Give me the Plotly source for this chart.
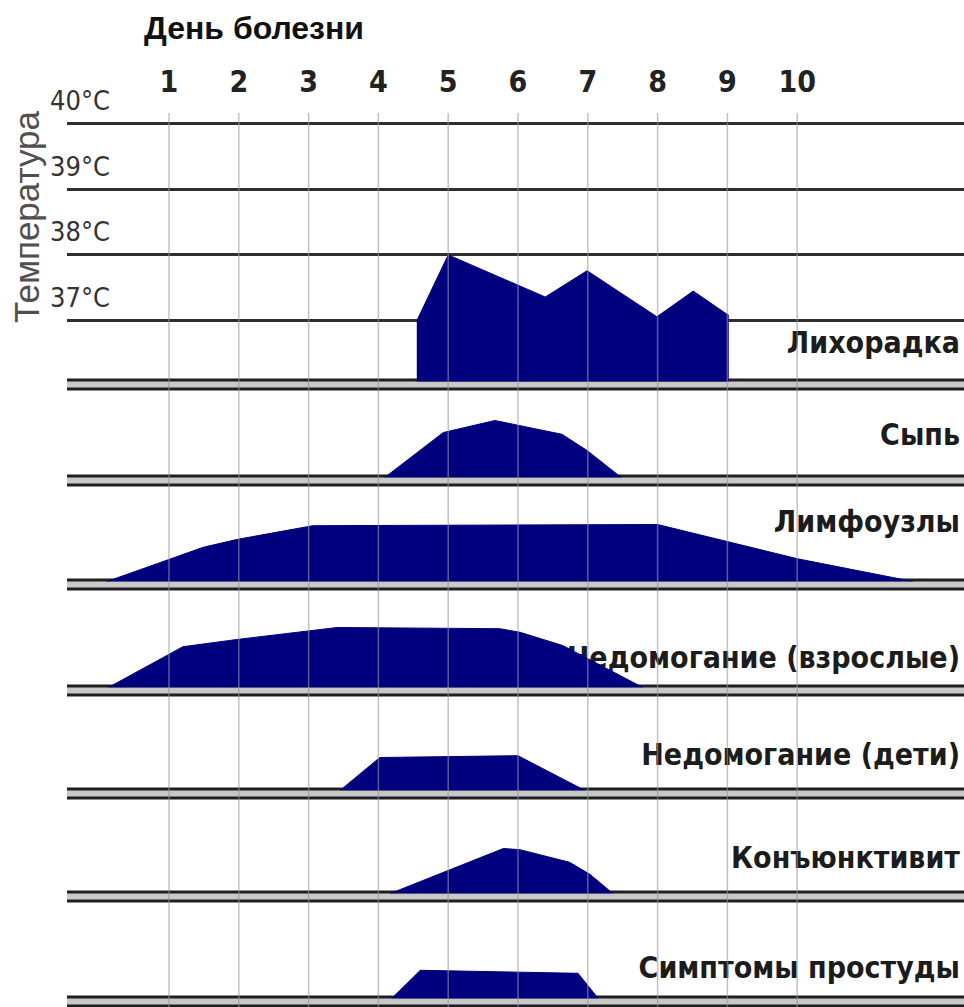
import plotly.graph_objects as go

# ---------------- data ----------------
days = [1, 2, 3, 4, 5, 6, 7, 8, 9, 10]
day_labels = ["1", "2", "3", "4", "5", "6", "7", "8", "9", "10"]
temps = [37, 38, 39, 40]
temp_labels = ["37°C", "38°C", "39°C", "40°C"]

fever_label = "Лихорадка"
fever_day = [4.55, 5.0, 6.39, 6.99, 7.99, 8.51, 9.02]
fever_temp = [37.0, 38.0, 37.36, 37.76, 37.06, 37.45, 37.08]

symptom_labels = ["Сыпь", "Лимфоузлы", "Недомогание (взрослые)",
                  "Недомогание (дети)", "Конъюнктивит", "Симптомы простуды"]
rash_day = [4.09, 4.93, 5.67, 6.63, 6.99, 7.48]
rash_val = [0, 0.75, 0.95, 0.72, 0.45, 0]
lymph_day = [0.11, 1.49, 1.97, 3.06, 8.0, 10.0, 11.66]
lymph_val = [0, 0.57, 0.70, 0.93, 0.95, 0.38, 0]
malaise_adult_day = [0.13, 1.2, 1.97, 3.41, 5.74, 6.03, 6.64, 7.79]
malaise_adult_val = [0, 0.68, 0.80, 1.0, 0.98, 0.92, 0.70, 0]
malaise_child_day = [3.45, 4.02, 6.0, 6.96]
malaise_child_val = [0, 0.55, 0.58, 0]
conj_day = [4.17, 4.98, 5.79, 6.03, 6.74, 7.03, 7.36]
conj_val = [0, 0.37, 0.75, 0.73, 0.52, 0.32, 0]
cold_day = [4.19, 4.6, 6.86, 7.15]
cold_val = [0, 0.47, 0.42, 0]

x_title = "День болезни"
y_title = "Температура"

# ---------------- layout constants (pixels) ----------------
W, H = 964, 1007
X_LEFT_PX = 67
DAY1_PX, DAY_PX = 169, 69.8
TOP_PX = 113
BASE_PX = [380, 476, 580, 686, 789, 892, 997]
GAP = 9
T40_PX, DEG_PX = 123.3, 65.8
UNIT_PX = 60
LABEL_RIGHT_PX = 960
LABEL_CY_PX = [345, 437, 524, 660, 757, 860, 970]

NAVY = "#00007f"
NARROW = "DejaVu Sans Condensed, Liberation Sans Narrow, Arial Narrow, sans-serif"
SANS = "Liberation Sans, Arial, sans-serif"


def py(p):
    return 1 - p / H


def px_to_day(p):
    return 1 + (p - DAY1_PX) / DAY_PX


x_range = [px_to_day(X_LEFT_PX), px_to_day(W)]
label_x = px_to_day(LABEL_RIGHT_PX)

fig = go.Figure()

panels = [(fever_day, fever_temp, fever_label)] + list(zip(
    [rash_day, lymph_day, malaise_adult_day, malaise_child_day, conj_day, cold_day],
    [rash_val, lymph_val, malaise_adult_val, malaise_child_val, conj_val, cold_val],
    symptom_labels))

layout_axes = {}
for i, (xd, yd, lab) in enumerate(panels):
    yname = "y" if i == 0 else f"y{i+1}"
    ykey = "yaxis" if i == 0 else f"yaxis{i+1}"
    b = BASE_PX[i]
    top = TOP_PX if i == 0 else BASE_PX[i - 1] + GAP + 3
    dom = [py(b + 1.5), py(top)]
    if i == 0:
        rng = [40 - (b + 1.5 - T40_PX) / DEG_PX, 40 + (T40_PX - top) / DEG_PX]
        label_y = 40 - (LABEL_CY_PX[i] - T40_PX) / DEG_PX
        layout_axes[ykey] = dict(domain=dom, range=rng, anchor="x",
                                 tickvals=temps, showticklabels=False,
                                 showgrid=True, gridcolor="#2e2e2e", gridwidth=2.5,
                                 zeroline=False, showline=False, ticks="",
                                 fixedrange=True)
    else:
        rng = [0, (b + 1.5 - top) / UNIT_PX]
        label_y = (b + 1.5 - LABEL_CY_PX[i]) / UNIT_PX
        layout_axes[ykey] = dict(domain=dom, range=rng, anchor="x", visible=False,
                                 fixedrange=True)
    # label (drawn below the fill, as in the original)
    fig.add_trace(go.Scatter(x=[label_x], y=[label_y], mode="text", text=[lab],
                             textposition="middle left",
                             textfont=dict(family=NARROW, size=30, color="#1c1c1c",
                                           weight="bold"),
                             xaxis="x", yaxis=yname, showlegend=False,
                             hoverinfo="skip"))
    fig.add_trace(go.Scatter(x=xd, y=yd, mode="lines", fill="tozeroy",
                             fillcolor=NAVY, line=dict(color=NAVY, width=1),
                             xaxis="x", yaxis=yname, showlegend=False,
                             name=lab))

shapes = []
# double base lines under each panel
for b in BASE_PX:
    shapes.append(dict(type="rect", xref="paper", yref="paper",
                       x0=X_LEFT_PX / W, x1=1, y0=py(b + GAP), y1=py(b),
                       fillcolor="#c8c8c8", line=dict(width=0), layer="below"))
    for yy in (b, b + GAP):
        shapes.append(dict(type="line", xref="paper", yref="paper",
                           x0=X_LEFT_PX / W, x1=1, y0=py(yy), y1=py(yy),
                           line=dict(color="#1e1e1e", width=3), layer="below"))
# vertical day grid lines (over the fills)
for d in days:
    shapes.append(dict(type="line", xref="x", yref="paper", x0=d, x1=d,
                       y0=0, y1=py(TOP_PX),
                       line=dict(color="rgba(150,150,165,0.6)", width=1.5),
                       layer="above"))

annotations = [
    dict(text=x_title, xref="paper", yref="paper", x=254 / W, y=py(28),
         xanchor="center", yanchor="middle", showarrow=False,
         font=dict(family=SANS, size=32, color="#111111", weight="bold")),
    dict(text=y_title, xref="paper", yref="paper", x=26 / W, y=py(217),
         xanchor="center", yanchor="middle", showarrow=False, textangle=-90,
         font=dict(family=SANS, size=35, color="#505050")),
]
for t, tl in zip(temps, temp_labels):
    annotations.append(dict(text=tl, xref="paper", yref="y", x=48 / W, y=t,
                            xanchor="left", yanchor="middle", yshift=23,
                            showarrow=False,
                            font=dict(family=NARROW, size=27, color="#333333")))

fig.update_layout(
    width=W, height=H,
    margin=dict(l=0, r=0, t=0, b=0),
    paper_bgcolor="white", plot_bgcolor="rgba(0,0,0,0)",
    showlegend=False,
    xaxis=dict(domain=[X_LEFT_PX / W, 1], range=x_range, anchor="y", side="top",
               tickvals=days, ticktext=day_labels, ticks="", showgrid=False,
               zeroline=False, showline=False, ticklabelstandoff=14,
               tickfont=dict(family=NARROW, size=30, color="#222222", weight="bold"),
               fixedrange=True),
    shapes=shapes,
    annotations=annotations,
    **layout_axes,
)

fig.write_html("out.html",
               config={"displayModeBar": False},
               post_script="document.body.style.margin='0';"
                           "document.body.style.overflow='hidden';")
